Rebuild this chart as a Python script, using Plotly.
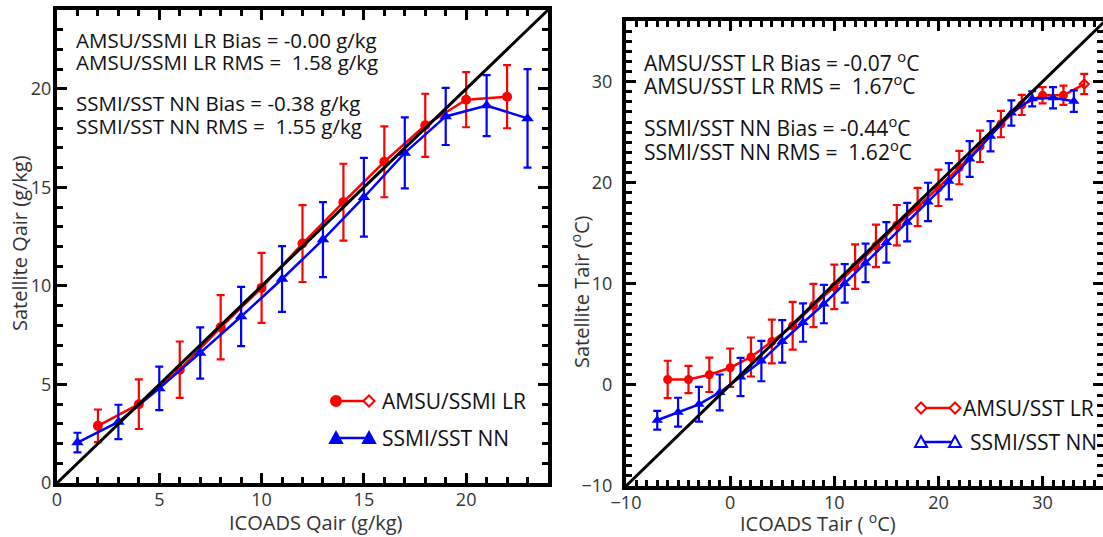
import plotly.graph_objects as go

# ---------------- data: left panel (Qair, g/kg) ----------------
q_lr_x = [2, 4, 6, 8, 10, 12, 14, 16, 18, 20, 22]
q_lr_y = [2.9, 4.0, 5.75, 7.9, 9.9, 12.15, 14.25, 16.3, 18.15, 19.45, 19.6]
q_lr_err = [0.83, 1.26, 1.43, 1.63, 1.78, 1.95, 1.95, 1.8, 1.6, 1.4, 1.6]

q_nn_x = [1, 3, 5, 7, 9, 11, 13, 15, 17, 19, 21, 23]
q_nn_y = [2.05, 3.1, 4.8, 6.6, 8.45, 10.35, 12.35, 14.5, 16.75, 18.6, 19.15, 18.5]
q_nn_err = [0.5, 0.87, 1.1, 1.3, 1.5, 1.67, 1.9, 2.0, 1.8, 1.45, 1.55, 2.5]

q_diag = [0, 24]

# ---------------- data: right panel (Tair, degC) ----------------
t_lr_x = [-6, -4, -2, 0, 2, 4, 6, 8, 10, 12, 14, 16, 18, 20, 22, 24, 26, 28, 30, 32, 34]
t_lr_y = [0.54, 0.54, 1.0, 1.7, 2.76, 4.3, 5.85, 7.85, 9.7, 11.7, 13.75, 15.8, 17.6,
          19.5, 21.5, 23.6, 25.8, 27.7, 28.65, 28.65, 29.76]
t_lr_err = [1.85, 1.35, 1.7, 1.9, 1.93, 2.16, 2.36, 2.14, 2.2, 2.2, 2.1, 2.0, 1.9,
            1.8, 1.65, 1.55, 1.3, 1.0, 0.8, 0.95, 1.0]

t_nn_x = [-7, -5, -3, -1, 1, 3, 5, 7, 9, 11, 13, 15, 17, 19, 21, 23, 25, 27, 29, 31, 33]
t_nn_y = [-3.5, -2.7, -1.92, -0.74, 0.78, 2.36, 4.3, 6.17, 8.0, 10.04, 12.07, 14.1,
          16.1, 18.1, 20.15, 22.35, 24.6, 26.9, 28.3, 28.4, 28.07]
t_nn_err = [0.93, 1.43, 1.72, 1.77, 1.89, 2.0, 2.1, 1.9, 1.9, 1.9, 1.9, 2.0, 1.9,
            1.9, 1.8, 1.77, 1.5, 1.25, 0.75, 1.05, 1.06]

t_diag = [-10, 36]

q_tick_step = 5
t_tick_step = 10

left_text = ["AMSU/SSMI LR Bias = -0.00 g/kg",
             "AMSU/SSMI LR RMS =\u00a0 1.58 g/kg",
             "SSMI/SST NN Bias = -0.38 g/kg",
             "SSMI/SST NN RMS =\u00a0 1.55 g/kg"]
right_text = ["AMSU/SST LR Bias = -0.07 <sup>o</sup>C",
              "AMSU/SST LR RMS =\u00a0 1.67<sup>o</sup>C",
              "SSMI/SST NN Bias = -0.44<sup>o</sup>C",
              "SSMI/SST NN RMS =\u00a0 1.62<sup>o</sup>C"]
legend_names_left = ["AMSU/SSMI LR", "SSMI/SST NN"]
legend_names_right = ["AMSU/SST LR", "SSMI/SST NN"]
axis_titles = ["ICOADS Qair (g/kg)", "Satellite Qair (g/kg)",
               "ICOADS Tair ( <sup>o</sup>C)", "Satellite Tair (<sup>o</sup>C)"]

RED = "#ff0000"
BLUE = "#0000ff"
FONT = "Open Sans"
TXT = "#111"
W, H = 1103, 537

fig = go.Figure()

def err(vals, color):
    return dict(type="data", array=vals, visible=True, thickness=2.2, width=4, color=color)

# left panel
fig.add_trace(go.Scatter(x=q_lr_x, y=q_lr_y, mode="lines+markers", error_y=err(q_lr_err, RED),
                         line=dict(color=RED, width=2.5), marker=dict(color=RED, size=10, symbol="circle"),
                         xaxis="x", yaxis="y", showlegend=False))
fig.add_trace(go.Scatter(x=q_nn_x, y=q_nn_y, mode="lines+markers", error_y=err(q_nn_err, BLUE),
                         line=dict(color=BLUE, width=2.5), marker=dict(color=BLUE, size=11, symbol="triangle-up"),
                         xaxis="x", yaxis="y", showlegend=False))
fig.add_trace(go.Scatter(x=q_diag, y=q_diag, mode="lines", line=dict(color="black", width=3),
                         xaxis="x", yaxis="y", showlegend=False))

# right panel
t_lr_symbols = ["circle"] * (len(t_lr_x) - 1) + ["diamond-open"]
fig.add_trace(go.Scatter(x=t_lr_x, y=t_lr_y, mode="lines+markers", error_y=err(t_lr_err, RED),
                         line=dict(color=RED, width=2.5),
                         marker=dict(color=RED, size=7, symbol=t_lr_symbols, line=dict(color=RED, width=2)),
                         xaxis="x2", yaxis="y2", showlegend=False))
fig.add_trace(go.Scatter(x=t_nn_x, y=t_nn_y, mode="lines+markers", error_y=err(t_nn_err, BLUE),
                         line=dict(color=BLUE, width=2.5), marker=dict(color=BLUE, size=10, symbol="triangle-up"),
                         xaxis="x2", yaxis="y2", showlegend=False))
fig.add_trace(go.Scatter(x=t_diag, y=t_diag, mode="lines", line=dict(color="black", width=3),
                         xaxis="x2", yaxis="y2", showlegend=False))

# domains (pixel layout with zero margins)
lx0, lx1, ly0, ly1 = 57, 548, 483, 10
rx0, rx1, ry0, ry1 = 626, 1103, 486, 21
dom = lambda a, b: [a / W, b / W]
domy = lambda bot, top: [1 - bot / H, 1 - top / H]

def axis(domain, rng, step, anchor, standoff):
    return dict(domain=domain, range=rng, tickmode="linear", tick0=0, dtick=step,
                ticks="inside", ticklen=10, tickwidth=3, tickcolor="black",
                minor=dict(tickmode="linear", tick0=0, dtick=1, ticks="inside", ticklen=6,
                           tickwidth=3, tickcolor="black"),
                showline=True, linewidth=4, linecolor="black", mirror="allticks",
                showgrid=False, zeroline=False, anchor=anchor, automargin=False,
                ticklabelstandoff=standoff,
                tickfont=dict(family=FONT, size=18, color="#333"))

fig.update_layout(
    width=W, height=H, margin=dict(l=0, r=0, t=0, b=0),
    paper_bgcolor="white", plot_bgcolor="white",
    xaxis=axis(dom(lx0, lx1), [0, 24], q_tick_step, "y", -3),
    yaxis=axis(domy(ly0, ly1), [0, 24], q_tick_step, "x", -2),
    xaxis2=axis(dom(rx0, rx1), [-10, 35.8], t_tick_step, "y2", -3),
    yaxis2=axis(domy(ry0, ry1), [-10, 36], t_tick_step, "x2", 6),
)

# axis titles (paper pixel positions)
def ptitle(text, px, py, angle):
    fig.add_annotation(text=text, xref="paper", yref="paper", x=px / W, y=1 - py / H,
                       xanchor="center", yanchor="middle", textangle=angle, showarrow=False,
                       font=dict(family=FONT, size=20, color="#333"))

ptitle(axis_titles[0], 316, 522, 0)
ptitle(axis_titles[1], 19, 243, -90)
ptitle(axis_titles[2], 818, 522, 0)
ptitle(axis_titles[3], 580, 292, -90)

# statistics text
def add_text(lines, xref, yref, xpos, ypos_list, size):
    for t, yp in zip(lines, ypos_list):
        fig.add_annotation(text=t, xref=xref, yref=yref, x=xpos, y=yp, xanchor="left", yanchor="middle",
                           showarrow=False, font=dict(family=FONT, size=size, color=TXT))

def ly(py):
    return (ly0 - py) / (ly0 - ly1)

def lxp(px):
    return (px - lx0) / (lx1 - lx0)

def ry(py):
    return (ry0 - py) / (ry0 - ry1)

def rxp(px):
    return (px - rx0) / (rx1 - rx0)

add_text(left_text, "x domain", "y domain", lxp(74), [ly(40), ly(62), ly(103), ly(126)], 20.5)
add_text(right_text, "x2 domain", "y2 domain", rxp(642), [ry(61), ry(84), ry(127), ry(150)], 21)

# custom legends (line with a symbol at each end)
def circle(xr, yr, xa, ya, color, filled):
    fig.add_shape(type="circle", xref=xr, yref=yr, xsizemode="pixel", ysizemode="pixel",
                  xanchor=xa, yanchor=ya, x0=-5, x1=5, y0=-5, y1=5,
                  line=dict(color=color, width=2), fillcolor=color if filled else "white")

def path(xr, yr, xa, ya, color, filled, kind):
    if kind == "tri":
        p = "M -6,-5 L 6,-5 L 0,6 Z"
    else:
        p = "M -5.5,0 L 0,5.5 L 5.5,0 L 0,-5.5 Z"
    fig.add_shape(type="path", xref=xr, yref=yr, xsizemode="pixel", ysizemode="pixel",
                  xanchor=xa, yanchor=ya, path=p,
                  line=dict(color=color, width=2), fillcolor=color if filled else "white")

def legend_line(xr, yr, xa, xb, ya, color):
    fig.add_shape(type="line", xref=xr, yref=yr, x0=xa, x1=xb, y0=ya, y1=ya, line=dict(color=color, width=2.5))

def legend_label(text, xr, yr, xp, yp):
    fig.add_annotation(text=text, xref=xr, yref=yr, x=xp, y=yp, xanchor="left", yanchor="middle",
                       showarrow=False, font=dict(family=FONT, size=21, color=TXT))

# left legend
a, b = lxp(336), lxp(369)
yr1, yb1 = ly(401), ly(438)
legend_line("x domain", "y domain", a, b, yr1, RED)
circle("x domain", "y domain", a, yr1, RED, True)
path("x domain", "y domain", b, yr1, RED, False, "dia")
legend_line("x domain", "y domain", a, b, yb1, BLUE)
path("x domain", "y domain", a, yb1, BLUE, True, "tri")
path("x domain", "y domain", b, yb1, BLUE, True, "tri")
legend_label(legend_names_left[0], "x domain", "y domain", lxp(380), yr1)
legend_label(legend_names_left[1], "x domain", "y domain", lxp(380), yb1)

# right legend
a2, b2 = rxp(921), rxp(955)
yr2, yb2 = ry(408), ry(442)
legend_line("x2 domain", "y2 domain", a2, b2, yr2, RED)
path("x2 domain", "y2 domain", a2, yr2, RED, False, "dia")
path("x2 domain", "y2 domain", b2, yr2, RED, False, "dia")
legend_line("x2 domain", "y2 domain", a2, b2, yb2, BLUE)
path("x2 domain", "y2 domain", a2, yb2, BLUE, False, "tri")
path("x2 domain", "y2 domain", b2, yb2, BLUE, False, "tri")
legend_label(legend_names_right[0], "x2 domain", "y2 domain", rxp(961), yr2)
legend_label(legend_names_right[1], "x2 domain", "y2 domain", rxp(968), yb2)

fig.write_html("out.html", config={"displayModeBar": False},
               post_script="document.body.style.margin='0';document.body.style.overflow='hidden';")
